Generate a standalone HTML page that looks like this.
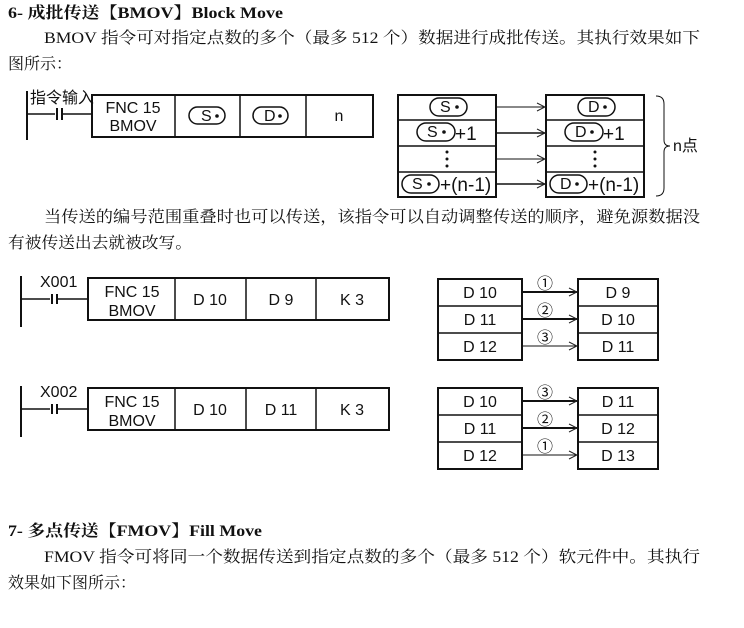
<!DOCTYPE html>
<html><head><meta charset="utf-8"><style>
html,body{margin:0;padding:0;background:#fff;}
svg{display:block;}
.t{font-family:"Liberation Serif","Noto Serif CJK SC",serif;font-size:16px;fill:#111;}
.h{font-family:"Liberation Serif","Noto Serif CJK SC",serif;font-size:16px;font-weight:bold;fill:#111;}
.s{font-family:"Liberation Sans","Noto Sans CJK SC",sans-serif;font-size:16px;fill:#111;}
.b{font-family:"Liberation Sans",sans-serif;font-size:19px;fill:#111;}
</style></head><body>
<svg width="744" height="628" viewBox="0 0 744 628" xmlns="http://www.w3.org/2000/svg">
<defs><marker id="a" markerWidth="10" markerHeight="10" refX="9" refY="5" orient="auto" markerUnits="userSpaceOnUse"><path d="M1,1 L9,5 L1,9" fill="none" stroke="#222" stroke-width="1"/></marker></defs>
<text class="h" x="8" y="18" textLength="275" lengthAdjust="spacingAndGlyphs">6-  成批传送【BMOV】Block Move</text>
<text class="t" x="44" y="43" textLength="656" lengthAdjust="spacingAndGlyphs">BMOV 指令可对指定点数的多个（最多 512 个）数据进行成批传送。其执行效果如下</text>
<text class="t" x="8" y="69" textLength="64" lengthAdjust="spacingAndGlyphs">图所示：</text>

<g stroke="#111" fill="none">
<line x1="27" y1="91" x2="27" y2="140" stroke-width="2"/>
<line x1="27" y1="114" x2="55" y2="114" stroke-width="1.5"/>
<line x1="57" y1="108" x2="57" y2="120" stroke-width="2"/>
<line x1="62" y1="108" x2="62" y2="120" stroke-width="2"/>
<line x1="62" y1="114" x2="92" y2="114" stroke-width="1.5"/>
<rect x="92" y="95" width="281" height="42" stroke-width="2"/>
<line x1="175" y1="95" x2="175" y2="137" stroke-width="1.5"/>
<line x1="240" y1="95" x2="240" y2="137" stroke-width="1.5"/>
<line x1="306" y1="95" x2="306" y2="137" stroke-width="1.5"/>
<rect x="189" y="107" width="36" height="17" rx="8.5" stroke-width="1.5"/>
<rect x="253" y="107" width="35" height="17" rx="8.5" stroke-width="1.5"/>
</g>
<text class="s" x="30" y="103" font-size="14">指令输入</text>
<text class="s" x="133" y="113" text-anchor="middle">FNC 15</text>
<text class="s" x="133" y="131" text-anchor="middle">BMOV</text>
<text class="s" x="201" y="121" font-size="15">S</text><circle cx="217" cy="116" r="1.8" fill="#111"/>
<text class="s" x="264" y="121" font-size="15">D</text><circle cx="280" cy="116" r="1.8" fill="#111"/>
<text class="s" x="339" y="121" text-anchor="middle" font-size="15">n</text>

<g stroke="#111" fill="none">
<rect x="398" y="95" width="98" height="102" stroke-width="2"/>
<line x1="398" y1="120" x2="496" y2="120" stroke-width="1.5"/>
<line x1="398" y1="146" x2="496" y2="146" stroke-width="1.5"/>
<line x1="398" y1="172" x2="496" y2="172" stroke-width="1.5"/>
<rect x="546" y="95" width="98" height="102" stroke-width="2"/>
<line x1="546" y1="120" x2="644" y2="120" stroke-width="1.5"/>
<line x1="546" y1="146" x2="644" y2="146" stroke-width="1.5"/>
<line x1="546" y1="172" x2="644" y2="172" stroke-width="1.5"/>
<line x1="496" y1="107" x2="545" y2="107" marker-end="url(#a)"/>
<line x1="496" y1="133" x2="545" y2="133" stroke-width="1.5" marker-end="url(#a)"/>
<line x1="496" y1="159" x2="545" y2="159" marker-end="url(#a)"/>
<line x1="496" y1="184" x2="545" y2="184" stroke-width="1.5" marker-end="url(#a)"/>
<rect x="430" y="98" width="37" height="18" rx="9" stroke-width="1.5"/>
<rect x="417" y="123" width="38" height="18" rx="9" stroke-width="1.5"/>
<rect x="402" y="175" width="37" height="18" rx="9" stroke-width="1.5"/>
<rect x="578" y="98" width="37" height="18" rx="9" stroke-width="1.5"/>
<rect x="565" y="123" width="38" height="18" rx="9" stroke-width="1.5"/>
<rect x="550" y="175" width="37" height="18" rx="9" stroke-width="1.5"/>
<path d="M656,96 Q664,96 664,104 L664,140 Q664,146 670,146 Q664,146 664,152 L664,188 Q664,196 656,196" stroke-width="1"/>
</g>
<g class="s" font-size="15">
<text x="440" y="112">S</text><circle cx="457" cy="107" r="1.8"/>
<text x="427" y="137">S</text><circle cx="444" cy="132" r="1.8"/>
<text x="412" y="189">S</text><circle cx="429" cy="184" r="1.8"/>
<text x="588" y="112">D</text><circle cx="605" cy="107" r="1.8"/>
<text x="575" y="137">D</text><circle cx="592" cy="132" r="1.8"/>
<text x="560" y="189">D</text><circle cx="577" cy="184" r="1.8"/>
</g>
<text class="b" x="455" y="140">+1</text>
<text class="b" x="440" y="191">+(n-1)</text>
<text class="b" x="603" y="140">+1</text>
<text class="b" x="588" y="191">+(n-1)</text>
<g fill="#111"><circle cx="447" cy="152" r="1.5"/><circle cx="447" cy="159" r="1.5"/><circle cx="447" cy="166" r="1.5"/>
<circle cx="595" cy="152" r="1.5"/><circle cx="595" cy="159" r="1.5"/><circle cx="595" cy="166" r="1.5"/></g>
<text class="s" x="673" y="151" font-size="14">n点</text>

<text class="t" x="44" y="222" textLength="656" lengthAdjust="spacingAndGlyphs">当传送的编号范围重叠时也可以传送，该指令可以自动调整传送的顺序，避免源数据没</text>
<text class="t" x="8" y="248" textLength="184" lengthAdjust="spacingAndGlyphs">有被传送出去就被改写。</text>

<g id="L2">
<g stroke="#111" fill="none">
<line x1="21" y1="276" x2="21" y2="327" stroke-width="2"/>
<line x1="21" y1="299" x2="50" y2="299" stroke-width="1.5"/>
<line x1="52" y1="294" x2="52" y2="304" stroke-width="2"/>
<line x1="57" y1="294" x2="57" y2="304" stroke-width="2"/>
<line x1="57" y1="299" x2="88" y2="299" stroke-width="1.5"/>
<rect x="88" y="278" width="301" height="42" stroke-width="2"/>
<line x1="175" y1="278" x2="175" y2="320" stroke-width="1.5"/>
<line x1="246" y1="278" x2="246" y2="320" stroke-width="1.5"/>
<line x1="316" y1="278" x2="316" y2="320" stroke-width="1.5"/>
</g>
<text class="s" x="132" y="297" text-anchor="middle">FNC 15</text>
<text class="s" x="132" y="316" text-anchor="middle">BMOV</text>
</g>
<text class="s" x="40" y="287">X001</text>
<text class="s" x="210" y="305" text-anchor="middle">D 10</text>
<text class="s" x="281" y="305" text-anchor="middle">D  9</text>
<text class="s" x="352" y="305" text-anchor="middle">K  3</text>
<use href="#L2" transform="translate(0,110)"/>
<text class="s" x="40" y="397">X002</text>
<text class="s" x="210" y="415" text-anchor="middle">D 10</text>
<text class="s" x="281" y="415" text-anchor="middle">D 11</text>
<text class="s" x="352" y="415" text-anchor="middle">K  3</text>

<g id="T2">
<g stroke="#111" fill="none">
<rect x="438" y="279" width="84" height="81" stroke-width="2"/>
<line x1="438" y1="306" x2="522" y2="306" stroke-width="1.5"/>
<line x1="438" y1="333" x2="522" y2="333" stroke-width="1.5"/>
<rect x="578" y="279" width="80" height="81" stroke-width="2"/>
<line x1="578" y1="306" x2="658" y2="306" stroke-width="1.5"/>
<line x1="578" y1="333" x2="658" y2="333" stroke-width="1.5"/>
<line x1="522" y1="292" x2="577" y2="292" stroke-width="2" marker-end="url(#a)"/>
<line x1="522" y1="319" x2="577" y2="319" stroke-width="2" marker-end="url(#a)"/>
<line x1="522" y1="346" x2="577" y2="346" stroke-width="1" marker-end="url(#a)"/>
</g>
<text class="s" x="480" y="298" text-anchor="middle">D 10</text>
<text class="s" x="480" y="325" text-anchor="middle">D 11</text>
<text class="s" x="480" y="352" text-anchor="middle">D 12</text>
</g>
<g class="s" text-anchor="middle">
<text x="545" y="289">①</text><text x="545" y="316">②</text><text x="545" y="343">③</text>
<text x="618" y="298">D  9</text><text x="618" y="325">D 10</text><text x="618" y="352">D 11</text>
</g>
<use href="#T2" transform="translate(0,109)"/>
<g class="s" text-anchor="middle">
<text x="545" y="398">③</text><text x="545" y="425">②</text><text x="545" y="452">①</text>
<text x="618" y="407">D 11</text><text x="618" y="434">D 12</text><text x="618" y="461">D 13</text>
</g>

<text class="h" x="8" y="536" textLength="254" lengthAdjust="spacingAndGlyphs">7-  多点传送【FMOV】Fill Move</text>
<text class="t" x="44" y="562" textLength="656" lengthAdjust="spacingAndGlyphs">FMOV 指令可将同一个数据传送到指定点数的多个（最多 512 个）软元件中。其执行</text>
<text class="t" x="8" y="588" textLength="128" lengthAdjust="spacingAndGlyphs">效果如下图所示：</text>
</svg>
</body></html>
